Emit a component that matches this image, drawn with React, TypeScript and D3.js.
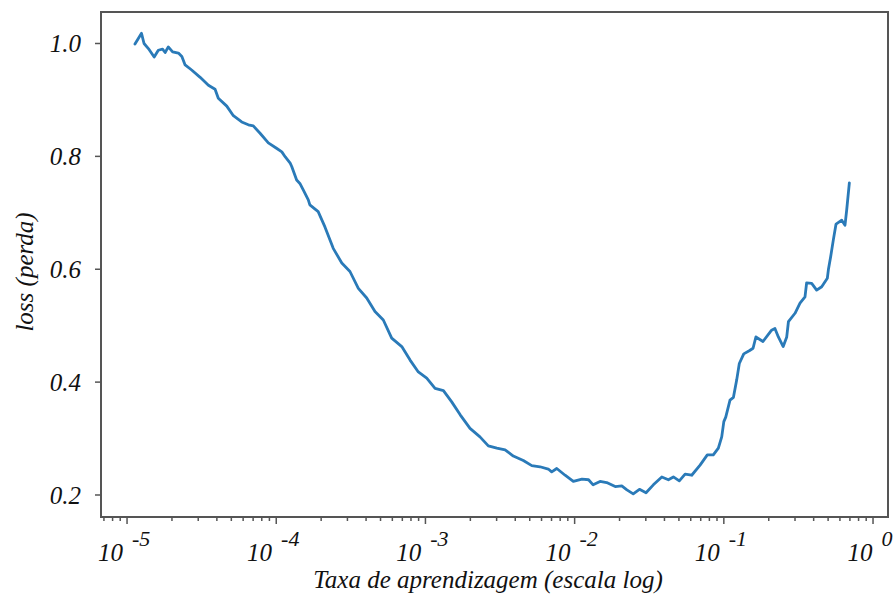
import React, { useEffect, useRef } from "react";
import * as d3 from "d3";

// learning rate (x, log scale) and loss (y)
const learningRates = [
  1.13e-5, 1.19e-5, 1.25e-5, 1.3e-5, 1.39e-5, 1.52e-5, 1.62e-5, 1.73e-5, 1.8e-5, 1.89e-5,
  2.02e-5, 2.21e-5, 2.33e-5, 2.45e-5, 2.71e-5, 3.09e-5, 3.51e-5, 3.89e-5, 4.09e-5, 4.66e-5,
  5.16e-5, 5.87e-5, 6.5e-5, 7.02e-5, 7.79e-5, 8.85e-5, 1.01e-4, 1.09e-4, 1.15e-4, 1.24e-4,
  1.27e-4, 1.37e-4, 1.44e-4, 1.52e-4, 1.64e-4, 1.68e-4, 1.91e-4, 2.12e-4, 2.41e-4, 2.75e-4,
  3.12e-4, 3.55e-4, 4.04e-4, 4.59e-4, 5.22e-4, 5.94e-4, 6.94e-4, 7.89e-4, 8.96e-4, 1.02e-3,
  1.16e-3, 1.32e-3, 1.5e-3, 1.71e-3, 1.99e-3, 2.32e-3, 2.64e-3, 3.01e-3, 3.42e-3, 3.88e-3,
  4.53e-3, 5.16e-3, 5.86e-3, 6.66e-3, 7.02e-3, 7.59e-3, 8.63e-3, 9.8e-3, 1.12e-2, 1.24e-2,
  1.33e-2, 1.48e-2, 1.64e-2, 1.87e-2, 2.07e-2, 2.24e-2, 2.47e-2, 2.72e-2, 3.01e-2, 3.37e-2,
  3.84e-2, 4.25e-2, 4.59e-2, 5.03e-2, 5.5e-2, 6.09e-2, 6.93e-2, 7.75e-2, 8.5e-2, 9.19e-2,
  9.68e-2, 1.0e-1, 1.03e-1, 1.1e-1, 1.16e-1, 1.22e-1, 1.27e-1, 1.36e-1, 1.49e-1, 1.57e-1,
  1.64e-1, 1.83e-1, 2.09e-1, 2.2e-1, 2.32e-1, 2.5e-1, 2.64e-1, 2.71e-1, 3.0e-1, 3.24e-1,
  3.5e-1, 3.59e-1, 3.88e-1, 4.19e-1, 4.53e-1, 4.94e-1, 5.02e-1, 5.2e-1, 5.42e-1, 5.65e-1,
  6.17e-1, 6.49e-1, 6.66e-1, 6.94e-1,
];

const losses = [
  0.999, 1.009, 1.018, 1.0, 0.991, 0.976, 0.988, 0.99, 0.984, 0.994,
  0.985, 0.983, 0.977, 0.962, 0.953, 0.94, 0.926, 0.919, 0.903, 0.889,
  0.872, 0.861, 0.856, 0.854, 0.841, 0.824, 0.814, 0.808, 0.799, 0.788,
  0.782, 0.758, 0.752, 0.74, 0.723, 0.714, 0.702, 0.675, 0.637, 0.611,
  0.596, 0.566, 0.549, 0.525, 0.51, 0.478, 0.463, 0.439, 0.418, 0.407,
  0.389, 0.385, 0.365, 0.342, 0.318, 0.303, 0.287, 0.283, 0.28, 0.269,
  0.261, 0.252, 0.25, 0.246, 0.241, 0.247, 0.235, 0.224, 0.228, 0.227,
  0.218, 0.224, 0.222, 0.215, 0.216, 0.209, 0.202, 0.21, 0.204, 0.218,
  0.232, 0.227, 0.232, 0.225, 0.237, 0.235, 0.253, 0.271, 0.271, 0.283,
  0.303, 0.33, 0.338, 0.368, 0.373, 0.404, 0.433, 0.45, 0.456, 0.46,
  0.48, 0.472, 0.492, 0.495, 0.48, 0.463, 0.48, 0.507, 0.522, 0.54,
  0.551, 0.576, 0.575, 0.563, 0.569, 0.584, 0.599, 0.622, 0.652, 0.68,
  0.687, 0.678, 0.705, 0.753,
];

const yTicks = [0.2, 0.4, 0.6, 0.8, 1.0];
const xMajor = [1e-5, 1e-4, 1e-3, 1e-2, 1e-1, 1];
const xExponents = ["-5", "-4", "-3", "-2", "-1", "0"];

const xLabel = "Taxa de aprendizagem (escala log)";
const yLabel = "loss (perda)";

export default function App() {
  const ref = useRef<SVGSVGElement>(null);

  useEffect(() => {
    const svg = d3.select(ref.current);
    svg.selectAll("*").remove();

    const left = 101, right = 888, top = 12, bottom = 517;
    const axisColor = "#555";
    const font = "'Liberation Serif', 'Times New Roman', serif";

    const x = d3.scaleLog().domain([6.69e-6, 1.26]).range([left, right]);
    const y = d3.scaleLinear().domain([0.161, 1.0558]).range([bottom, top]);

    const data = learningRates.map((lr, i) => ({ lr, loss: losses[i] }));

    // line
    const line = d3.line<{ lr: number; loss: number }>()
      .x(d => x(d.lr))
      .y(d => y(d.loss));

    svg.append("path")
      .datum(data)
      .attr("d", line)
      .attr("fill", "none")
      .attr("stroke", "#2a7ab8")
      .attr("stroke-width", 2.8)
      .attr("stroke-linejoin", "round")
      .attr("stroke-linecap", "round");

    // frame
    svg.append("rect")
      .attr("x", left)
      .attr("y", top)
      .attr("width", right - left)
      .attr("height", bottom - top)
      .attr("fill", "none")
      .attr("stroke", axisColor)
      .attr("stroke-width", 2);

    // x ticks (major + minor)
    const allX = x.ticks();
    svg.append("g")
      .selectAll("line")
      .data(allX)
      .join("line")
      .attr("x1", d => x(d))
      .attr("x2", d => x(d))
      .attr("y1", bottom)
      .attr("y2", d => bottom + (xMajor.some(m => Math.abs(m - d) / m < 1e-6) ? 7 : 4))
      .attr("stroke", axisColor)
      .attr("stroke-width", 1.5);

    const xt = svg.append("g")
      .attr("font-family", font)
      .attr("font-style", "italic")
      .attr("fill", "#111");

    xMajor.forEach((v, i) => {
      const t = xt.append("text")
        .attr("x", x(v) - 3)
        .attr("y", 561)
        .attr("text-anchor", "middle")
        .attr("font-size", 25);
      t.append("tspan").text("10");
      t.append("tspan")
        .attr("dx", 9)
        .attr("dy", -15)
        .attr("font-size", 22)
        .text(xExponents[i]);
    });

    // y ticks
    svg.append("g")
      .selectAll("line")
      .data(yTicks)
      .join("line")
      .attr("x1", left - 6)
      .attr("x2", left)
      .attr("y1", d => y(d))
      .attr("y2", d => y(d))
      .attr("stroke", axisColor)
      .attr("stroke-width", 1.5);

    svg.append("g")
      .selectAll("text")
      .data(yTicks)
      .join("text")
      .attr("x", 81)
      .attr("y", d => y(d) + 9)
      .attr("text-anchor", "end")
      .attr("font-family", font)
      .attr("font-style", "italic")
      .attr("font-size", 25)
      .attr("fill", "#111")
      .text(d => d3.format(".1f")(d));

    // axis labels
    svg.append("text")
      .attr("x", 488)
      .attr("y", 588)
      .attr("text-anchor", "middle")
      .attr("font-family", font)
      .attr("font-style", "italic")
      .attr("font-size", 25)
      .attr("fill", "#111")
      .text(xLabel);

    svg.append("text")
      .attr("transform", `translate(33, 272) rotate(-90)`)
      .attr("text-anchor", "middle")
      .attr("font-family", font)
      .attr("font-style", "italic")
      .attr("font-size", 25)
      .attr("fill", "#111")
      .text(yLabel);
  }, []);

  return (
    <svg
      ref={ref}
      width={896}
      height={601}
      style={{ position: "absolute", left: 0, top: 0, background: "#fff" }}
    />
  );
}
